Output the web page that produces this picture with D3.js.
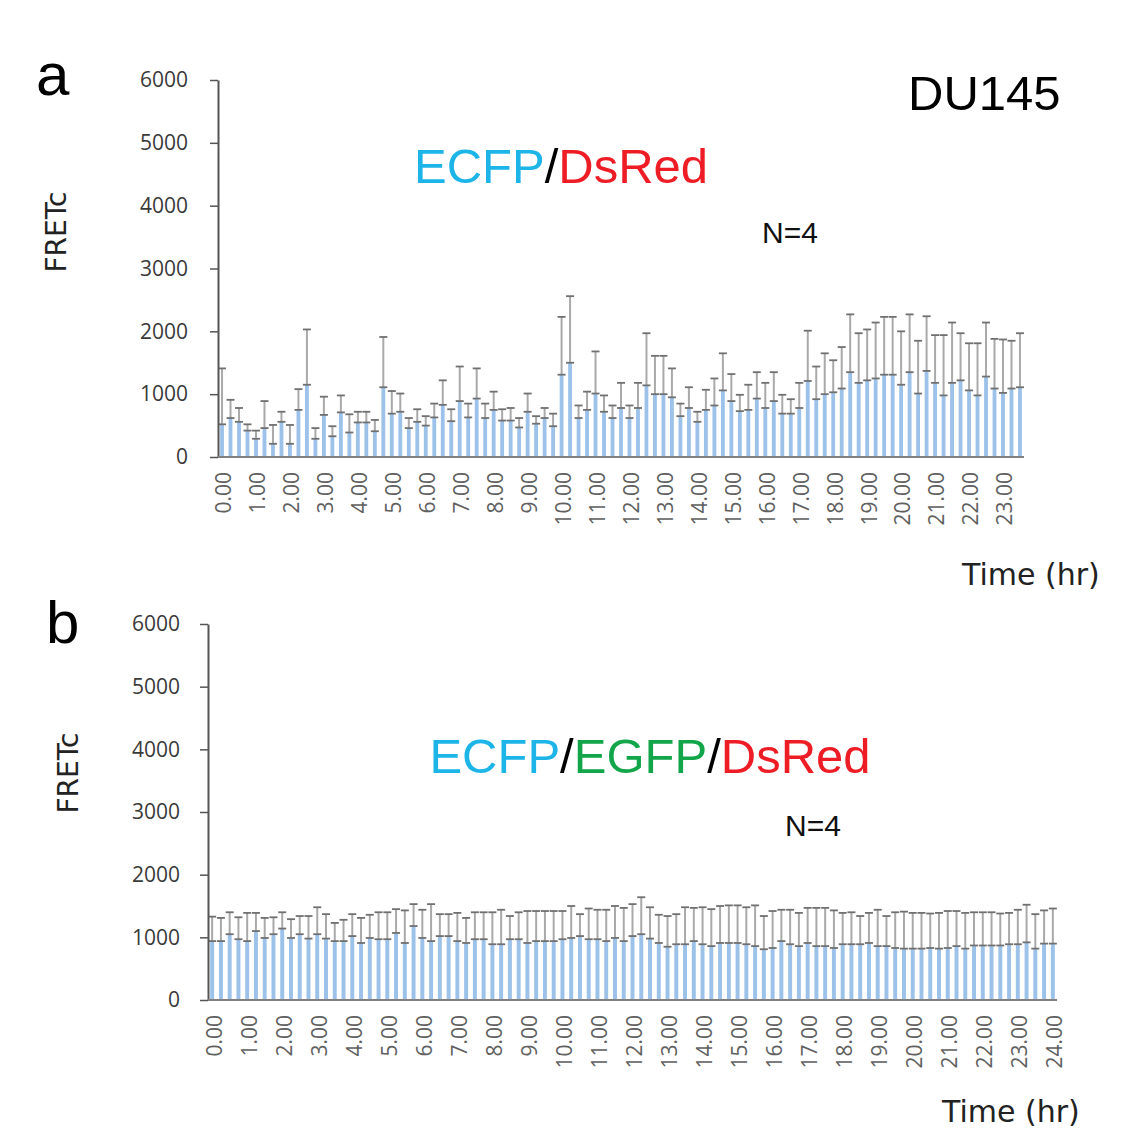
<!DOCTYPE html>
<html>
<head>
<meta charset="utf-8">
<script src="https://cdn.jsdelivr.net/npm/d3@7"></script>
<style>
  body { margin: 0; background: #fff; }
  svg text { font-family: "Liberation Sans", Arial, sans-serif; }
</style>
</head>
<body>
<svg id="chart" width="1127" height="1133"></svg>
<script>
// FRETc values, one sample every 15 min
const stepHours = 0.25;
const yTicks = [0, 1000, 2000, 3000, 4000, 5000, 6000];

// panel a: ECFP/DsRed, 0.00 .. 23.50 hr
const aMean = [
  520, 620, 560, 420, 290, 460, 210, 560, 210, 750,
  1150, 290, 670, 330, 710, 390, 550, 550, 410, 1110,
  690, 720, 460, 560, 500, 630, 830, 570, 890, 630,
  930, 620, 750, 580, 580, 470, 720, 530, 620, 490,
  1310, 1500, 620, 750, 1010, 720, 620, 780, 620, 780,
  1140, 1000, 1000, 950, 650, 780, 560, 750, 820, 1060,
  890, 730, 750, 930, 780, 890, 690, 690, 780, 1210,
  920, 1000, 1030, 1090, 1350, 1180, 1220, 1250, 1310, 1310,
  1150, 1350, 1010, 1370, 1180, 980, 1180, 1220, 1060, 980,
  1280, 1090, 1020, 1090, 1110
];
const aSd = [
  890, 290, 220, 100, 130, 430, 300, 160, 300, 330,
  880, 170, 290, 160, 270, 290, 170, 170, 180, 800,
  360, 290, 160, 200, 150, 220, 390, 190, 550, 220,
  480, 230, 290, 180, 200, 150, 290, 120, 160, 200,
  920, 1060, 200, 290, 670, 260, 200, 400, 200, 400,
  830, 610, 610, 460, 200, 330, 160, 320, 430, 590,
  430, 260, 400, 420, 400, 460, 300, 230, 400, 800,
  520, 650, 510, 660, 920, 790, 810, 890, 920, 920,
  850, 920, 840, 870, 760, 960, 960, 750, 750, 830,
  860, 790, 850, 760, 860
];

// panel b: ECFP/EGFP/DsRed, 0.00 .. 24.00 hr
const bMean = [
  940, 940, 1050, 970, 940, 1100, 990, 1050, 1140, 990,
  1050, 980, 1050, 980, 940, 940, 1020, 910, 990, 970,
  970, 1070, 910, 1180, 990, 940, 1020, 1020, 940, 910,
  970, 970, 890, 890, 970, 970, 910, 940, 940, 940,
  970, 990, 1020, 970, 970, 940, 990, 940, 1020, 1050,
  980, 910, 850, 890, 890, 940, 890, 860, 910, 910,
  910, 890, 860, 810, 830, 940, 890, 860, 910, 860,
  860, 830, 890, 890, 890, 910, 860, 860, 830, 820,
  820, 820, 830, 820, 830, 860, 820, 870, 870, 870,
  870, 890, 890, 920, 820, 900, 900
];
const bSd = [
  390, 370, 350, 350, 450, 290, 320, 270, 260, 300,
  290, 360, 430, 390, 290, 340, 350, 400, 370, 430,
  430, 380, 520, 350, 450, 590, 350, 350, 450, 400,
  430, 430, 510, 550, 370, 430, 510, 480, 480, 480,
  450, 510, 350, 490, 470, 500, 510, 530, 510, 590,
  500, 450, 490, 480, 590, 530, 590, 590, 590, 600,
  600, 590, 650, 530, 590, 500, 550, 530, 560, 610,
  610, 600, 500, 510, 450, 480, 580, 480, 570, 590,
  570, 570, 550, 570, 590, 560, 570, 530, 530, 530,
  510, 500, 550, 600, 550, 530, 560
];

const cyan = '#1db4e8';
const red = '#ee1c24';
const green = '#12a54a';

const svg = d3.select('#chart');

function drawPanel(cfg) {
  const g = svg.append('g');
  const times = cfg.means.map((d, i) => i * stepHours);

  const x = d3.scaleBand()
    .domain(times)
    .range([cfg.left, cfg.right])
    .paddingInner(0.55)
    .paddingOuter(0.25);
  const y = d3.scaleLinear().domain([0, 6000]).range([cfg.bottom, cfg.top]);
  const cx = t => x(t) + x.bandwidth() / 2;

  // bars
  g.append('g')
    .selectAll('rect')
    .data(times)
    .enter()
    .append('rect')
    .attr('x', t => x(t))
    .attr('width', x.bandwidth())
    .attr('y', (t, i) => y(cfg.means[i]))
    .attr('height', (t, i) => cfg.bottom - y(cfg.means[i]))
    .attr('fill', '#9cc2ea');

  // error bars (mean to mean + SD, capped at both ends)
  const err = g.append('g')
    .selectAll('g')
    .data(times)
    .enter()
    .append('g');
  err.append('line')
    .attr('x1', cx).attr('x2', cx)
    .attr('y1', (t, i) => y(cfg.means[i]))
    .attr('y2', (t, i) => y(cfg.means[i] + cfg.sds[i]))
    .attr('stroke', '#a9a9a9')
    .attr('stroke-width', 2);
  [0, 1].forEach((k) => {
    err.append('line')
      .attr('x1', t => cx(t) - 4).attr('x2', t => cx(t) + 4)
      .attr('y1', (t, i) => y(cfg.means[i] + k * cfg.sds[i]))
      .attr('y2', (t, i) => y(cfg.means[i] + k * cfg.sds[i]))
      .attr('stroke', '#707070')
      .attr('stroke-width', 1.8);
  });

  // y axis
  const yAxis = g.append('g')
    .attr('transform', `translate(${cfg.left},0)`)
    .call(d3.axisLeft(y)
      .tickValues(yTicks)
      .tickFormat(d3.format('d'))
      .tickSize(8)
      .tickPadding(cfg.yPad)
      .tickSizeOuter(0));
  yAxis.select('.domain').attr('stroke', '#555').attr('stroke-width', 2);
  yAxis.selectAll('.tick line').attr('stroke', '#555').attr('stroke-width', 1.5);
  yAxis.selectAll('.tick text')
    .attr('fill', '#3a3a3a')
    .style('font-family', '"Open Sans", sans-serif')
    .style('font-size', '21px');

  // x axis line
  g.append('line')
    .attr('x1', cfg.left).attr('x2', cfg.right)
    .attr('y1', cfg.bottom).attr('y2', cfg.bottom)
    .attr('stroke', '#808080')
    .attr('stroke-width', 2);

  // x tick labels, every hour, rotated
  g.append('g')
    .selectAll('text')
    .data(times.filter((t, i) => i % 4 === 0))
    .enter()
    .append('text')
    .attr('transform', t => `translate(${cx(t) + 2},${cfg.bottom + 15}) rotate(-90)`)
    .attr('text-anchor', 'end')
    .attr('dy', '0.35em')
    .attr('fill', '#606060')
    .style('font-family', '"Open Sans", sans-serif')
    .style('font-size', '21px')
    .text(t => t.toFixed(2));

  // axis titles
  g.append('text')
    .attr('transform', `translate(${cfg.yTitleX},${cfg.yTitleY}) rotate(-90)`)
    .attr('text-anchor', 'middle')
    .attr('dy', '0.35em')
    .style('font-family', '"DejaVu Sans", sans-serif')
    .style('font-size', '28px')
    .attr('fill', '#222')
    .text('FRETc');
  g.append('text')
    .attr('x', cfg.xTitleX).attr('y', cfg.xTitleY)
    .style('font-family', '"DejaVu Sans", sans-serif')
    .style('font-size', '30px')
    .attr('fill', '#222')
    .text('Time (hr)');

  // panel letter
  g.append('text')
    .attr('x', cfg.letterX).attr('y', cfg.letterY)
    .style('font-size', '60px')
    .attr('fill', '#000')
    .text(cfg.letter);

  // construct label
  const title = g.append('text')
    .attr('x', cfg.titleX).attr('y', cfg.titleY)
    .attr('text-anchor', 'middle')
    .style('font-size', '49px');
  cfg.title.forEach((part) => {
    title.append('tspan').attr('fill', part[1]).text(part[0]);
  });

  g.append('text')
    .attr('x', cfg.nX).attr('y', cfg.nY)
    .style('font-size', '30px')
    .attr('fill', '#111')
    .text('N=4');
}

drawPanel({
  letter: 'a', letterX: 36, letterY: 95,
  means: aMean, sds: aSd,
  left: 218, right: 1024, top: 80, bottom: 457, yPad: 22,
  yTitleX: 56, yTitleY: 232,
  xTitleX: 962, xTitleY: 585,
  title: [['ECFP', cyan], ['/', '#000'], ['DsRed', red]],
  titleX: 561, titleY: 183,
  nX: 762, nY: 243,
});

drawPanel({
  letter: 'b', letterX: 46, letterY: 643,
  means: bMean, sds: bSd,
  left: 208, right: 1057, top: 624, bottom: 1000, yPad: 20,
  yTitleX: 68, yTitleY: 773,
  xTitleX: 942, xTitleY: 1122,
  title: [['ECFP', cyan], ['/', '#000'], ['EGFP', green], ['/', '#000'], ['DsRed', red]],
  titleX: 650, titleY: 773,
  nX: 785, nY: 836,
});

svg.append('text')
  .attr('x', 908).attr('y', 110)
  .style('font-size', '49px')
  .attr('fill', '#000')
  .text('DU145');
</script>
</body>
</html>
